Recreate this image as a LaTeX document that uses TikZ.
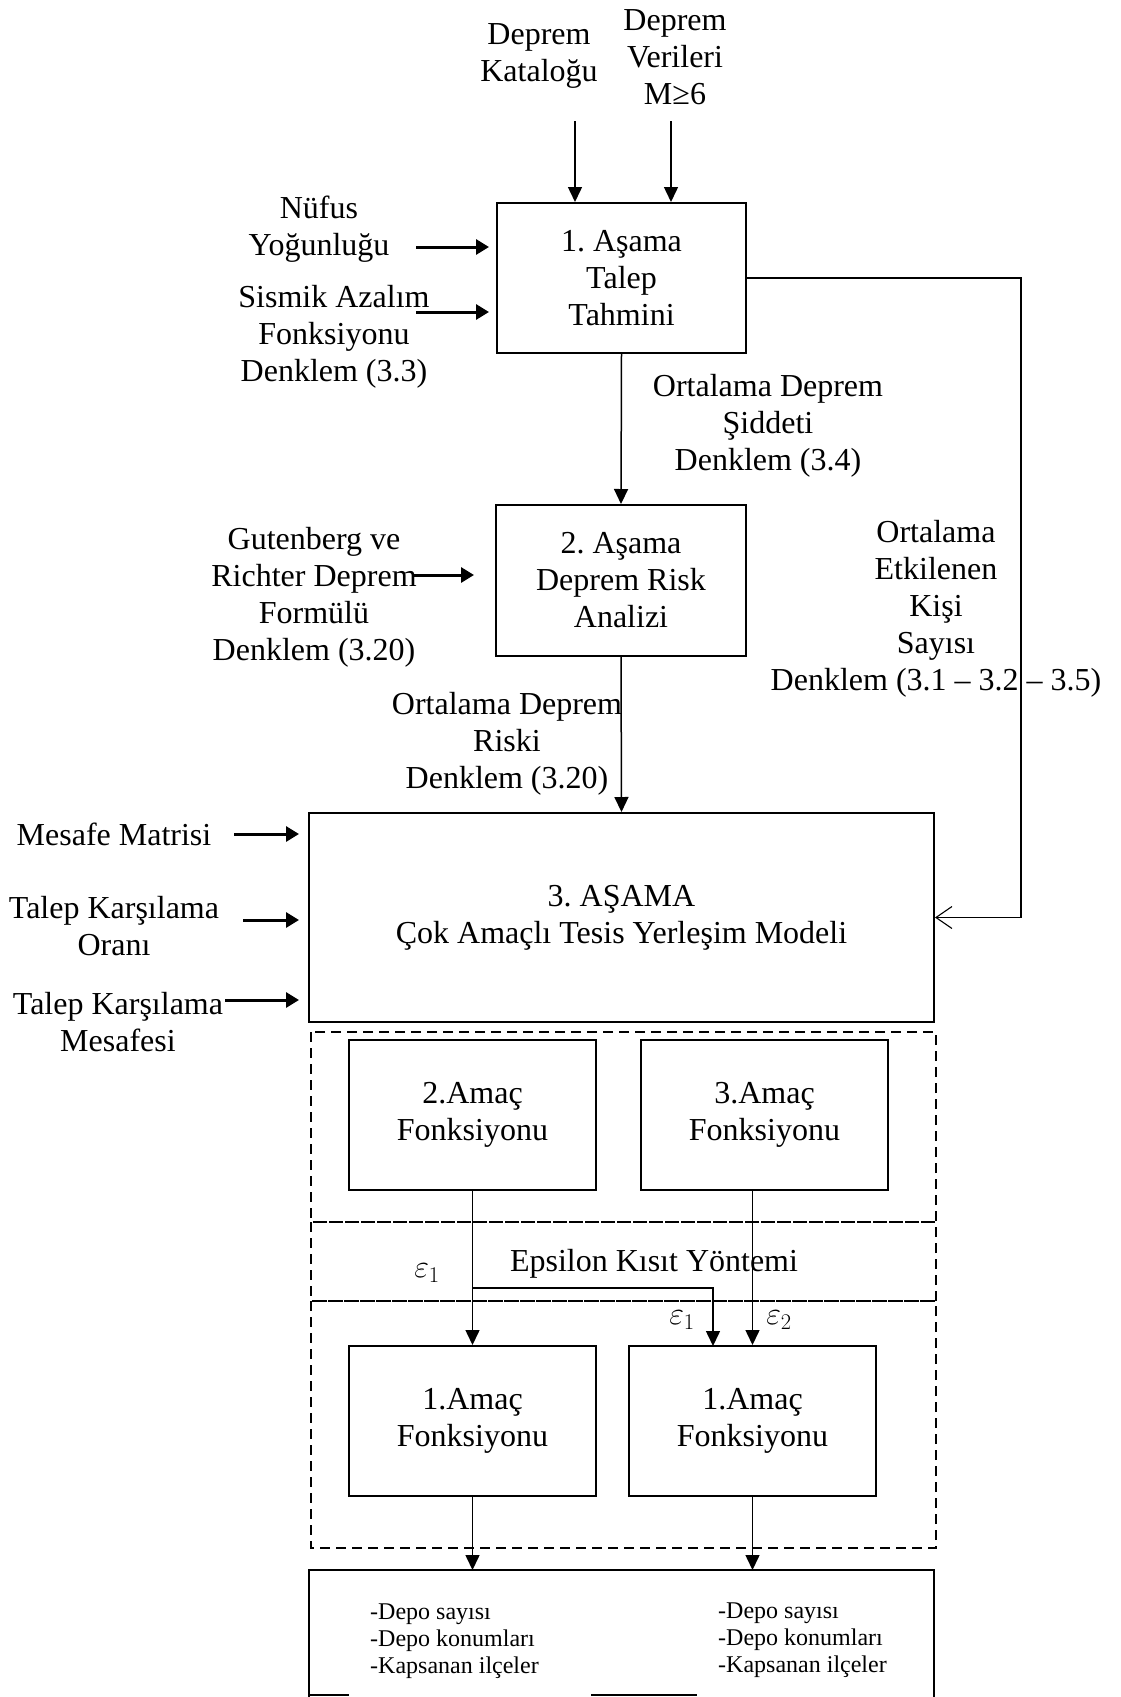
\documentclass[tikz,border=0pt]{standalone}
\usepackage{fix-cm}
\usepackage{fontspec}
\setmainfont{Liberation Serif}
\usetikzlibrary{arrows.meta}
\frenchspacing
\begin{document}
\begin{tikzpicture}[x=1pt,y=-1pt,
  font=\fontsize{32}{37}\selectfont,
  box/.style={draw,line width=2pt,inner sep=0pt,align=center,minimum width=249pt,minimum height=150pt},
  lbl/.style={align=center,inner sep=0pt},
  small/.style={align=left,inner sep=0pt,anchor=west,font=\fontsize{24}{27}\selectfont},
  conn/.style={line width=1.5pt,-{Triangle[length=15pt,width=14pt]}},
  inarrow/.style={line width=3pt,-{Triangle[length=13pt,width=15pt]}},
  feedback/.style={line width=1.1pt,-{Straight Barb[length=16pt,width=22pt]}},
  dashbox/.style={draw,line width=2pt,dash pattern=on 10pt off 6pt}]
\useasboundingbox (0,0) rectangle (1120,1697);

% main boxes
\node[box] (s1) at (621.5,278) {1. Aşama\\Talep\\Tahmini};
\node[box,minimum width=250pt,minimum height=151pt] (s2) at (621,580.5) {2. Aşama\\Deprem Risk\\Analizi};
\node[box,minimum width=625pt,minimum height=209pt] (s3) at (621.5,917.5) {3. AŞAMA\\Çok Amaçlı Tesis Yerleşim Modeli};
\node[box,minimum width=247pt] (a2) at (472.5,1115) {2.Amaç\\Fonksiyonu};
\node[box,minimum width=247pt] (a3) at (764.5,1115) {3.Amaç\\Fonksiyonu};
\node[box,minimum width=247pt] (b1) at (472.5,1421) {1.Amaç\\Fonksiyonu};
\node[box,minimum width=247pt] (b2) at (752.5,1421) {1.Amaç\\Fonksiyonu};

% top inputs
\node[lbl] (kat) at (539,56) {Deprem\\Kataloğu};
\node[lbl] (ver) at (675,57) {Deprem\\Verileri\\M≥6};
\coordinate (katS) at (575,121);
\coordinate (verS) at (671,121);
\draw[conn] (katS) -- (katS |- s1.north);
\draw[conn] (verS) -- (verS |- s1.north);

% left inputs stage 1
\node[lbl] (nuf) at (319,229) {Nüfus\\Yoğunluğu};
\node[lbl] (sis) at (334,337) {Sismik Azalım\\Fonksiyonu\\Denklem (3.3)};
\coordinate (nufS) at (416,247);
\coordinate (sisS) at (416,312);
\draw[inarrow,shorten >=7pt] (nufS) -- (nufS -| s1.west);
\draw[inarrow,shorten >=7pt] (sisS) -- (sisS -| s1.west);

% stage 1 -> stage 2
\draw[conn] (s1.south) -- (s2.north);
\node[lbl] (sid) at (768,426) {Ortalama Deprem\\Şiddeti\\Denklem (3.4)};

% left input stage 2
\node[lbl] (gut) at (314,597.5) {Gutenberg ve\\Richter Deprem\\Formülü\\Denklem (3.20)};
\coordinate (gutS) at (414,575);
\draw[inarrow,shorten >=21pt] (gutS) -- (gutS -| s2.west);

% feedback
\coordinate (fbX) at (1021,600);
\draw[feedback] (s1.east) -| (fbX) |- (s3.east);
\node[lbl] (etk) at (936,609) {Ortalama\\Etkilenen\\Kişi\\Sayısı\\Denklem (3.1 – 3.2 – 3.5)};

% stage 2 -> stage 3
\draw[conn] (s2.south) -- (s3.north);
\node[lbl] (risk) at (507,744) {Ortalama Deprem\\Riski\\Denklem (3.20)};

% left inputs stage 3
\node[lbl] (mes) at (114,834) {Mesafe Matrisi};
\node[lbl] (tko) at (114,926.5) {Talep Karşılama\\Oranı};
\node[lbl] (tkm) at (118,1022) {Talep Karşılama\\Mesafesi};
\coordinate (mesS) at (234,834);
\coordinate (tkoS) at (243,920);
\coordinate (tkmS) at (225,1000);
\draw[inarrow,shorten >=9pt] (mesS) -- (mesS -| s3.west);
\draw[inarrow,shorten >=9pt] (tkoS) -- (tkoS -| s3.west);
\draw[inarrow,shorten >=9pt] (tkmS) -- (tkmS -| s3.west);

% dashed regions
\draw[dashbox] (311,1032) rectangle (936,1222);
\draw[dashbox] (311,1222) rectangle (936,1301);
\draw[dashbox] (311,1301) rectangle (936,1548);

% epsilon region
\node[lbl] (eps) at (654,1264) {Epsilon Kısıt Yöntemi};
\node[lbl] (e1a) at (427,1273) {$\varepsilon_1$};
\node[lbl] (e1b) at (682,1320) {$\varepsilon_1$};
\node[lbl] (e2) at (779,1320) {$\varepsilon_2$};
\draw[conn] (a2.south) -- (b1.north);
\draw[conn] (b2.north |- a3.south) -- (b2.north);
\coordinate (br) at (473,1288);
\coordinate (brR) at (713,1346);
\draw[conn] (br) -| (brR);

% output box (cropped)
\coordinate (outT) at (621,1570);
\draw[line width=2pt] (309,1697) -- (309,1570) -- (934,1570) -- (934,1697);
\draw[line width=2.5pt] (309,1695) -- (349,1695) (591,1695) -- (697,1695);
\draw[conn] (b1.south) -- (b1.south |- outT);
\draw[conn] (b2.south) -- (b2.south |- outT);
\node[small] (o1) at (370,1641.5) {-Depo sayısı\\-Depo konumları\\-Kapsanan ilçeler};
\node[small] (o2) at (718,1640) {-Depo sayısı\\-Depo konumları\\-Kapsanan ilçeler};
\end{tikzpicture}
\end{document}
